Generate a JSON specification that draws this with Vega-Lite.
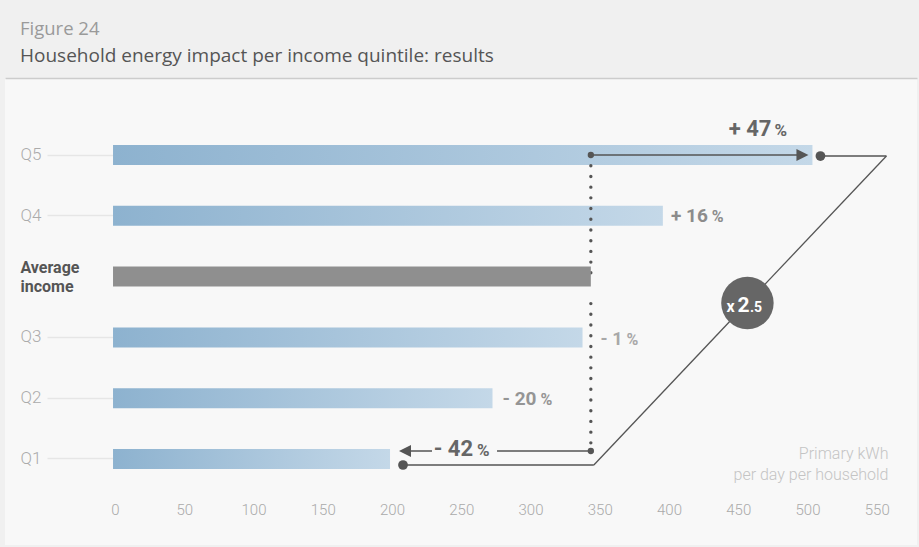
{
  "$schema": "https://vega.github.io/schema/vega-lite/v6.json",
  "width": 912,
  "height": 467,
  "autosize": {"type": "none"},
  "padding": {"left": 5, "top": 78, "right": 2, "bottom": 2},
  "background": "#f0f0f0",
  "title": {
    "text": "Figure 24",
    "subtitle": "Household energy impact per income quintile: results",
    "anchor": "start",
    "frame": "group",
    "font": "Open Sans",
    "fontSize": 18.5,
    "fontWeight": "normal",
    "color": "#9a9a9a",
    "subtitleFont": "Open Sans",
    "subtitleFontSize": 19,
    "subtitleColor": "#555555",
    "subtitlePadding": 9,
    "offset": 12,
    "dx": 15
  },
  "config": {"view": {"fill": "#f8f8f8", "stroke": null}},
  "datasets": {
    "rows": [
      {"group": "Q5", "kwh": 505, "avg": 345, "num": "+ 47"},
      {"group": "Q4", "kwh": 397, "avg": 345, "num": "+ 16"},
      {"group": "Average income", "kwh": 345, "avg": 345, "num": ""},
      {"group": "Q3", "kwh": 339, "avg": 345, "num": "- 1"},
      {"group": "Q2", "kwh": 274, "avg": 345, "num": "- 20"},
      {"group": "Q1", "kwh": 200, "avg": 345, "num": "- 42"}
    ],
    "ratio": [
      {"top": "Q5", "mid": "Average income", "bottom": "Q1", "high": 505, "low": 200, "avg": 345}
    ]
  },
  "resolve": {"axis": {"x": "independent", "y": "independent"}},
  "layer": [
    {
      "data": {"name": "rows"},
      "transform": [{"filter": "datum.group != 'Average income'"}],
      "mark": {
        "type": "bar",
        "height": 20,
        "color": {
          "gradient": "linear", "x1": 0, "x2": 1, "y1": 0, "y2": 0,
          "stops": [{"offset": 0, "color": "#8db2cf"}, {"offset": 1, "color": "#c4d8e8"}]
        }
      },
      "encoding": {
        "y": {
          "field": "group", "type": "nominal",
          "sort": ["Q5", "Q4", "Average income", "Q3", "Q2", "Q1"],
          "scale": {
            "domain": ["Q5", "Q4", "Average income", "Q3", "Q2", "Q1"],
            "paddingInner": 0.319, "paddingOuter": 1, "align": 0.463
          },
          "axis": {
            "title": null, "orient": "left", "offset": -108, "domain": false, "grid": false,
            "ticks": true, "tickSize": 66, "tickWidth": 1.5,
            "tickColor": {"condition": {"test": "datum.value == 'Average income'", "value": "transparent"}, "value": "#e6e6e6"},
            "labelAlign": "left", "labelPadding": 27, "labelBaseline": "middle",
            "labelOffset": {"condition": {"test": "datum.value == 'Average income'", "value": -9}, "value": 0},
            "labelFont": "Roboto",
            "labelFontSize": {"condition": {"test": "datum.value == 'Average income'", "value": 16}, "value": 17},
            "labelFontWeight": {"condition": {"test": "datum.value == 'Average income'", "value": "bold"}, "value": 300},
            "labelColor": {"condition": {"test": "datum.value == 'Average income'", "value": "#555555"}, "value": "#ababab"},
            "labelExpr": "datum.value == 'Average income' ? ['Average', 'income'] : datum.value",
            "labelLineHeight": 19
          }
        },
        "x": {
          "field": "kwh", "type": "quantitative",
          "scale": {"domain": [-78, 580.5], "nice": false, "zero": false},
          "axis": {
            "orient": "bottom", "title": null, "values": [0, 50, 100, 150, 200, 250, 300, 350, 400, 450, 500, 550],
            "offset": -45, "domain": false, "ticks": false, "tickSize": 0, "grid": false,
            "labelPadding": 2, "labelOffset": 2, "labelFont": "Roboto", "labelFontSize": 15, "labelFontWeight": 300,
            "labelColor": "#aaaaaa", "labelFlush": false
          }
        }
      }
    },
    {
      "data": {"name": "ratio"},
      "layer": [
        {
          "mark": {"type": "rule", "stroke": "#555555", "strokeWidth": 3.4, "strokeDash": [0.01, 10.7], "strokeCap": "round"},
          "encoding": {
            "x": {"field": "avg", "type": "quantitative", "axis": null},
            "y": {"field": "top", "type": "nominal", "axis": null},
            "y2": {"field": "mid"}
          }
        },
        {
          "mark": {"type": "rule", "stroke": "#555555", "strokeWidth": 3.4, "strokeDash": [0.01, 10.7], "strokeCap": "round", "yOffset": 27, "y2Offset": -8},
          "encoding": {
            "x": {"field": "avg", "type": "quantitative", "axis": null},
            "y": {"field": "mid", "type": "nominal", "axis": null},
            "y2": {"field": "bottom"}
          }
        }
      ]
    },
    {
      "data": {"name": "rows"},
      "transform": [{"filter": "datum.group == 'Average income'"}],
      "mark": {"type": "bar", "height": 20, "color": "#8f8f8f"},
      "encoding": {
        "x": {
          "field": "kwh", "type": "quantitative",
          "axis": {"orient": "top", "title": null, "labels": false, "ticks": false, "grid": false, "domain": true, "domainColor": "#cccccc", "domainWidth": 1.5}
        },
        "y": {"field": "group", "type": "nominal", "axis": null}
      }
    },
    {
      "data": {"name": "rows"},
      "transform": [{"filter": "datum.group == 'Q5'"}],
      "layer": [
        {
          "mark": {"type": "rule", "stroke": "#555555", "strokeWidth": 1.5, "x2Offset": -9},
          "encoding": {
            "x": {"field": "avg", "type": "quantitative", "axis": null},
            "x2": {"field": "kwh"},
            "y": {"field": "group", "type": "nominal", "axis": null}
          }
        },
        {
          "mark": {"type": "point", "shape": "M-1,-1L1,0L-1,1Z", "size": 144, "filled": true, "color": "#555555", "opacity": 1, "xOffset": -10},
          "encoding": {
            "x": {"field": "kwh", "type": "quantitative", "axis": null},
            "y": {"field": "group", "type": "nominal", "axis": null}
          }
        },
        {
          "mark": {"type": "point", "shape": "circle", "size": 40, "filled": true, "color": "#555555", "opacity": 1},
          "encoding": {
            "x": {"field": "avg", "type": "quantitative", "axis": null},
            "y": {"field": "group", "type": "nominal", "axis": null}
          }
        },
        {
          "mark": {"type": "text", "font": "Roboto", "fontWeight": "bold", "fontSize": 22, "color": "#666666", "align": "right", "baseline": "alphabetic", "xOffset": -41, "yOffset": -19},
          "encoding": {
            "x": {"field": "kwh", "type": "quantitative", "axis": null},
            "y": {"field": "group", "type": "nominal", "axis": null},
            "text": {"field": "num"}
          }
        },
        {
          "mark": {"type": "text", "font": "Roboto", "fontWeight": "bold", "fontSize": 17, "color": "#666666", "align": "left", "baseline": "alphabetic", "xOffset": -38, "yOffset": -19},
          "encoding": {
            "x": {"field": "kwh", "type": "quantitative", "axis": null},
            "y": {"field": "group", "type": "nominal", "axis": null},
            "text": {"value": "%"}
          }
        }
      ]
    },
    {
      "data": {"name": "rows"},
      "transform": [{"filter": "datum.group == 'Q4'"}],
      "layer": [
        {
          "mark": {"type": "text", "font": "Roboto", "fontWeight": "bold", "fontSize": 19, "color": "#8c8c8c", "align": "right", "baseline": "alphabetic", "xOffset": 45, "yOffset": 6},
          "encoding": {
            "x": {"field": "kwh", "type": "quantitative", "axis": null},
            "y": {"field": "group", "type": "nominal", "axis": null},
            "text": {"field": "num"}
          }
        },
        {
          "mark": {"type": "text", "font": "Roboto", "fontWeight": "bold", "fontSize": 16, "color": "#8c8c8c", "align": "left", "baseline": "alphabetic", "xOffset": 49, "yOffset": 6},
          "encoding": {
            "x": {"field": "kwh", "type": "quantitative", "axis": null},
            "y": {"field": "group", "type": "nominal", "axis": null},
            "text": {"value": "%"}
          }
        }
      ]
    },
    {
      "data": {"name": "rows"},
      "transform": [{"filter": "datum.group == 'Q3'"}],
      "layer": [
        {
          "mark": {"type": "text", "font": "Roboto", "fontWeight": "bold", "fontSize": 18, "color": "#a8a8a8", "align": "right", "baseline": "alphabetic", "xOffset": 40, "yOffset": 8},
          "encoding": {
            "x": {"field": "kwh", "type": "quantitative", "axis": null},
            "y": {"field": "group", "type": "nominal", "axis": null},
            "text": {"field": "num"}
          }
        },
        {
          "mark": {"type": "text", "font": "Roboto", "fontWeight": "bold", "fontSize": 16, "color": "#a8a8a8", "align": "left", "baseline": "alphabetic", "xOffset": 44, "yOffset": 8},
          "encoding": {
            "x": {"field": "kwh", "type": "quantitative", "axis": null},
            "y": {"field": "group", "type": "nominal", "axis": null},
            "text": {"value": "%"}
          }
        }
      ]
    },
    {
      "data": {"name": "rows"},
      "transform": [{"filter": "datum.group == 'Q2'"}],
      "layer": [
        {
          "mark": {"type": "text", "font": "Roboto", "fontWeight": "bold", "fontSize": 19, "color": "#959595", "align": "right", "baseline": "alphabetic", "xOffset": 44, "yOffset": 7},
          "encoding": {
            "x": {"field": "kwh", "type": "quantitative", "axis": null},
            "y": {"field": "group", "type": "nominal", "axis": null},
            "text": {"field": "num"}
          }
        },
        {
          "mark": {"type": "text", "font": "Roboto", "fontWeight": "bold", "fontSize": 16, "color": "#959595", "align": "left", "baseline": "alphabetic", "xOffset": 48, "yOffset": 7},
          "encoding": {
            "x": {"field": "kwh", "type": "quantitative", "axis": null},
            "y": {"field": "group", "type": "nominal", "axis": null},
            "text": {"value": "%"}
          }
        }
      ]
    },
    {
      "data": {"name": "rows"},
      "transform": [{"filter": "datum.group == 'Q1'"}],
      "layer": [
        {
          "mark": {"type": "rule", "stroke": "#555555", "strokeWidth": 1.5, "x2Offset": 107, "yOffset": -8},
          "encoding": {
            "x": {"field": "avg", "type": "quantitative", "axis": null},
            "x2": {"field": "kwh"},
            "y": {"field": "group", "type": "nominal", "axis": null}
          }
        },
        {
          "mark": {"type": "rule", "stroke": "#555555", "strokeWidth": 1.5, "xOffset": 15, "x2Offset": 42, "yOffset": -8},
          "encoding": {
            "x": {"field": "kwh", "type": "quantitative", "axis": null},
            "x2": {"field": "kwh"},
            "y": {"field": "group", "type": "nominal", "axis": null}
          }
        },
        {
          "mark": {"type": "point", "shape": "M1,-1L-1,0L1,1Z", "size": 144, "filled": true, "color": "#555555", "opacity": 1, "xOffset": 15, "yOffset": -8},
          "encoding": {
            "x": {"field": "kwh", "type": "quantitative", "axis": null},
            "y": {"field": "group", "type": "nominal", "axis": null}
          }
        },
        {
          "mark": {"type": "point", "shape": "circle", "size": 40, "filled": true, "color": "#555555", "opacity": 1, "yOffset": -8},
          "encoding": {
            "x": {"field": "avg", "type": "quantitative", "axis": null},
            "y": {"field": "group", "type": "nominal", "axis": null}
          }
        },
        {
          "mark": {"type": "text", "font": "Roboto", "fontWeight": "bold", "fontSize": 22, "color": "#666666", "align": "right", "baseline": "alphabetic", "xOffset": 83, "yOffset": -2.5},
          "encoding": {
            "x": {"field": "kwh", "type": "quantitative", "axis": null},
            "y": {"field": "group", "type": "nominal", "axis": null},
            "text": {"field": "num"}
          }
        },
        {
          "mark": {"type": "text", "font": "Roboto", "fontWeight": "bold", "fontSize": 17, "color": "#666666", "align": "left", "baseline": "alphabetic", "xOffset": 87, "yOffset": -2.5},
          "encoding": {
            "x": {"field": "kwh", "type": "quantitative", "axis": null},
            "y": {"field": "group", "type": "nominal", "axis": null},
            "text": {"value": "%"}
          }
        }
      ]
    },
    {
      "data": {"name": "ratio"},
      "layer": [
        {
          "mark": {"type": "rule", "stroke": "#555555", "strokeWidth": 1.3, "xOffset": 8, "x2Offset": 74, "yOffset": 1},
          "encoding": {
            "x": {"field": "high", "type": "quantitative", "axis": null},
            "x2": {"field": "high"},
            "y": {"field": "top", "type": "nominal", "axis": null}
          }
        },
        {
          "mark": {"type": "rule", "stroke": "#555555", "strokeWidth": 1.3, "xOffset": 74, "yOffset": 1, "x2Offset": 3, "y2Offset": 6},
          "encoding": {
            "x": {"field": "high", "type": "quantitative", "axis": null},
            "x2": {"field": "avg"},
            "y": {"field": "top", "type": "nominal", "axis": null},
            "y2": {"field": "bottom"}
          }
        },
        {
          "mark": {"type": "rule", "stroke": "#555555", "strokeWidth": 1.3, "xOffset": 3, "x2Offset": 13, "yOffset": 6},
          "encoding": {
            "x": {"field": "avg", "type": "quantitative", "axis": null},
            "x2": {"field": "low"},
            "y": {"field": "bottom", "type": "nominal", "axis": null}
          }
        },
        {
          "mark": {"type": "point", "shape": "circle", "size": 95, "filled": true, "color": "#555555", "opacity": 1, "xOffset": 8, "yOffset": 1},
          "encoding": {
            "x": {"field": "high", "type": "quantitative", "axis": null},
            "y": {"field": "top", "type": "nominal", "axis": null}
          }
        },
        {
          "mark": {"type": "point", "shape": "circle", "size": 95, "filled": true, "color": "#555555", "opacity": 1, "xOffset": 13, "yOffset": 6},
          "encoding": {
            "x": {"field": "low", "type": "quantitative", "axis": null},
            "y": {"field": "bottom", "type": "nominal", "axis": null}
          }
        },
        {
          "mark": {"type": "point", "shape": "circle", "size": 2750, "filled": true, "color": "#666666", "opacity": 1, "xOffset": -65, "yOffset": 26.4},
          "encoding": {
            "x": {"field": "high", "type": "quantitative", "axis": null},
            "y": {"field": "mid", "type": "nominal", "axis": null}
          }
        },
        {
          "mark": {"type": "text", "font": "Roboto", "fontWeight": "bold", "fontSize": 16, "color": "white", "align": "left", "baseline": "alphabetic", "xOffset": -86, "yOffset": 35},
          "encoding": {
            "x": {"field": "high", "type": "quantitative", "axis": null},
            "y": {"field": "mid", "type": "nominal", "axis": null},
            "text": {"value": "x"}
          }
        },
        {
          "mark": {"type": "text", "font": "Roboto", "fontWeight": "bold", "fontSize": 21, "color": "white", "align": "left", "baseline": "alphabetic", "xOffset": -75, "yOffset": 35},
          "encoding": {
            "x": {"field": "high", "type": "quantitative", "axis": null},
            "y": {"field": "mid", "type": "nominal", "axis": null},
            "text": {"value": "2"}
          }
        },
        {
          "mark": {"type": "text", "font": "Roboto", "fontWeight": "bold", "fontSize": 14, "color": "white", "align": "left", "baseline": "alphabetic", "xOffset": -62.5, "yOffset": 35},
          "encoding": {
            "x": {"field": "high", "type": "quantitative", "axis": null},
            "y": {"field": "mid", "type": "nominal", "axis": null},
            "text": {"value": ".5"}
          }
        },
        {
          "mark": {"type": "text", "font": "Roboto", "fontWeight": 300, "fontSize": 16, "color": "#c4c4c4", "align": "right", "baseline": "middle", "lineHeight": 21, "xOffset": 76, "yOffset": -5},
          "encoding": {
            "x": {"field": "high", "type": "quantitative", "axis": null},
            "y": {"field": "bottom", "type": "nominal", "axis": null},
            "text": {"value": ["Primary kWh", "per day per household"]}
          }
        }
      ]
    }
  ]
}
